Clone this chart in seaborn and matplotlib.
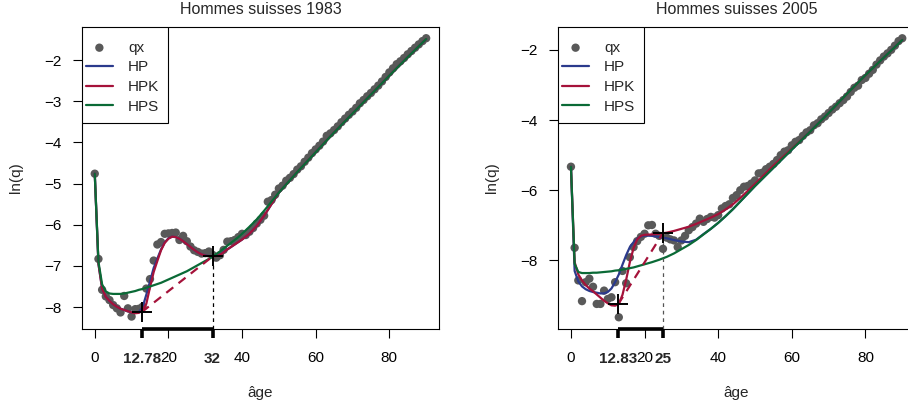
import numpy as np
import pandas as pd
import matplotlib
matplotlib.use("Agg")
import matplotlib.pyplot as plt
import matplotlib.transforms as mtransforms
from matplotlib.patches import Rectangle
import seaborn as sns

# --- Data ---
ages = list(range(0, 91))

qx_1983 = [-4.76, -6.83, -7.58, -7.74, -7.83, -7.95, -8.03, -8.13, -7.73, -8.03,
           -8.23, -8.05, -8.04, -7.99, -7.55, -7.32, -6.87, -6.48, -6.42, -6.22,
           -6.21, -6.20, -6.19, -6.37, -6.27, -6.40, -6.53, -6.62, -6.66, -6.70,
           -6.69, -6.65, -6.73, -6.80, -6.74, -6.61, -6.41, -6.40, -6.37, -6.30,
           -6.22, -6.25, -6.17, -6.08, -5.97, -5.88, -5.78, -5.44, -5.40, -5.27,
           -5.12, -5.05, -4.93, -4.86, -4.77, -4.66, -4.58, -4.47, -4.37, -4.26,
           -4.17, -4.08, -3.98, -3.84, -3.78, -3.70, -3.61, -3.51, -3.42, -3.33,
           -3.25, -3.16, -3.05, -2.97, -2.88, -2.80, -2.71, -2.62, -2.52, -2.41,
           -2.30, -2.20, -2.10, -2.03, -1.95, -1.86, -1.78, -1.70, -1.62, -1.54,
           -1.47]

qx_2005 = [-5.33, -7.64, -8.57, -9.16, -8.62, -8.52, -8.75, -9.24, -9.24, -8.86,
           -9.10, -9.05, -8.62, -9.62, -8.30, -8.65, -7.91, -7.62, -7.45, -7.33,
           -7.24, -7.00, -6.99, -7.24, -7.30, -7.67, -7.35, -7.40, -7.43, -7.62,
           -7.43, -7.30, -7.14, -7.05, -6.95, -6.81, -6.90, -6.82, -6.76, -6.78,
           -6.71, -6.52, -6.45, -6.40, -6.22, -6.14, -6.00, -5.90, -5.88, -5.81,
           -5.72, -5.52, -5.50, -5.40, -5.33, -5.25, -5.14, -5.00, -4.90, -4.86,
           -4.72, -4.62, -4.57, -4.45, -4.35, -4.29, -4.15, -4.09, -3.98, -3.90,
           -3.80, -3.70, -3.62, -3.52, -3.43, -3.33, -3.20, -3.08, -3.02, -2.86,
           -2.80, -2.68, -2.57, -2.42, -2.30, -2.19, -2.10, -2.00, -1.88, -1.75,
           -1.67]

# fitted curves, 1983
curve_ages_1983 = list(range(0, 41)) + [42, 44, 46, 48, 50, 55, 60, 65, 70, 75, 80, 85, 90]
hpk_1983 = [-4.76, -6.95, -7.55, -7.75, -7.85, -7.93, -7.99, -8.04, -8.07, -8.10,
            -8.13, -8.15, -8.14, -8.08, -7.92, -7.52, -7.15, -6.88, -6.62, -6.44,
            -6.34, -6.29, -6.30, -6.34, -6.40, -6.47, -6.54, -6.61, -6.67, -6.72,
            -6.75, -6.77, -6.77, -6.76, -6.73, -6.67, -6.60, -6.54, -6.48, -6.42,
            -6.36, -6.22, -6.03, -5.78, -5.50, -5.22, -4.72, -4.24, -3.76, -3.30,
            -2.84, -2.38, -1.93, -1.49]
hp_1983 = [-4.76, -6.95, -7.55, -7.75, -7.85, -7.93, -7.99, -8.04, -8.07, -8.10,
           -8.13, -8.14, -8.12, -8.00, -7.70, -7.38, -7.05, -6.82, -6.60, -6.43,
           -6.33, -6.29, -6.30, -6.34, -6.40, -6.47, -6.54, -6.61, -6.67, -6.72,
           -6.75, -6.76, -6.76, -6.75, -6.72, -6.66, -6.60, -6.54, -6.48, -6.42,
           -6.36, -6.22, -6.03, -5.78, -5.50, -5.22, -4.72, -4.24, -3.76, -3.30,
           -2.84, -2.38, -1.93, -1.49]
hps_1983 = [-4.76, -6.90, -7.45, -7.62, -7.67, -7.68, -7.68, -7.68, -7.67, -7.65,
            -7.63, -7.61, -7.58, -7.56, -7.53, -7.50, -7.47, -7.44, -7.41, -7.37,
            -7.33, -7.29, -7.25, -7.21, -7.17, -7.13, -7.08, -7.03, -6.98, -6.93,
            -6.88, -6.83, -6.77, -6.71, -6.65, -6.58, -6.51, -6.44, -6.37, -6.30,
            -6.22, -6.05, -5.87, -5.66, -5.44, -5.22, -4.72, -4.24, -3.76, -3.30,
            -2.84, -2.38, -1.93, -1.49]

# fitted curves, 2005
curve_ages_2005 = list(range(0, 21)) + list(range(22, 51, 2)) + [55, 60, 65, 70, 75, 80, 85, 90]
hpk_2005 = [-5.33, -8.05, -8.40, -8.57, -8.70, -8.80, -8.88, -8.97, -9.06, -9.15,
            -9.22, -9.28, -9.29, -9.24, -8.98, -8.55, -8.05, -7.65, -7.40, -7.30,
            -7.27, -7.26, -7.24, -7.21, -7.16, -7.10, -7.04, -6.96, -6.87, -6.78,
            -6.68, -6.55, -6.40, -6.22, -6.02, -5.82, -5.30, -4.82, -4.33, -3.80,
            -3.25, -2.72, -2.22, -1.72]
hp_2005 = [-5.33, -8.30, -8.60, -8.74, -8.82, -8.87, -8.90, -8.92, -8.94, -8.94,
           -8.90, -8.80, -8.62, -8.40, -8.12, -7.85, -7.62, -7.48, -7.38, -7.32,
           -7.29, -7.30, -7.33, -7.37, -7.42, -7.46, -7.48, -7.41, -7.25, -7.10,
           -6.93, -6.74, -6.54, -6.32, -6.10, -5.88, -5.36, -4.84, -4.33, -3.80,
           -3.25, -2.72, -2.22, -1.72]
hps_2005 = [-5.33, -8.10, -8.33, -8.36, -8.36, -8.36, -8.35, -8.35, -8.34, -8.33,
            -8.32, -8.31, -8.29, -8.28, -8.26, -8.24, -8.22, -8.20, -8.17, -8.14,
            -8.11, -8.05, -7.98, -7.90, -7.80, -7.68, -7.56, -7.42, -7.26, -7.10,
            -6.93, -6.74, -6.54, -6.32, -6.10, -5.88, -5.36, -4.84, -4.33, -3.80,
            -3.25, -2.72, -2.22, -1.72]

# hump bounds (knots) and the curve value at each
knots_1983 = [12.78, 32]
knot_vals_1983 = [-8.12, -6.77]
knot_labels_1983 = ["12.78", "32"]
knots_2005 = [12.83, 25]
knot_vals_2005 = [-9.25, -7.22]
knot_labels_2005 = ["12.83", "25"]

PT = "#595959"
BLUE = "#2B3A8C"
RED = "#A5123A"
GREEN = "#0A6A36"

sns.set_style("ticks")
plt.rcParams['font.family'] = ['Liberation Sans', 'DejaVu Sans']
plt.rcParams['axes.unicode_minus'] = True

fig = plt.figure(figsize=(9.08, 4.03), dpi=100)
ax1 = fig.add_axes([81.5 / 908, (403 - 328.5) / 403, 357.9 / 908, 301.8 / 403])
ax2 = fig.add_axes([557.7 / 908, (403 - 328.5) / 403, 357.8 / 908, 301.8 / 403])


def draw_panel(ax, title, qx, cages, hp, hpk, hps, knots, kvals, klabels,
               ylim, yticks, vcolor):
    pts = pd.DataFrame({'age': ages, 'lnq': qx})
    sns.scatterplot(data=pts, x='age', y='lnq', ax=ax, color=PT, s=36,
                    edgecolor='none', label='qx', zorder=2)
    for name, vals, col in (('HP', hp, BLUE), ('HPK', hpk, RED), ('HPS', hps, GREEN)):
        sns.lineplot(x=cages, y=vals, ax=ax, color=col, lw=1.6, label=name,
                     estimator=None, sort=False, zorder=3)
    # senescent part under the hump
    ax.plot(knots, kvals, ls=(0, (4, 3)), color=RED, lw=1.6, zorder=3)
    ax.plot([knots[1], knots[1]], [ylim[0], kvals[1]], ls=(0, (3, 3)),
            color=vcolor, lw=0.9, zorder=3)
    ax.plot(knots, kvals, ls='none', marker='+', ms=15, mew=1.4,
            color='black', zorder=5)

    ax.set_xlim(-3.6, 93.6)
    ax.set_ylim(*ylim)
    ax.set_xticks([0, 20, 40, 60, 80])
    ax.set_yticks(yticks)
    ax.tick_params(length=6.5, width=0.8, labelsize=11,
                   color='black', labelcolor='black')
    ax.tick_params(axis='x', pad=10)
    ax.tick_params(axis='y', pad=8)
    for s in ax.spines.values():
        s.set_color('black')
        s.set_linewidth(0.8)
    ax.set_xlabel('')
    ax.set_ylabel('')
    ax.set_title(title, fontsize=11.5, pad=9)
    ax.text(0.5, -0.214, 'âge', transform=ax.transAxes, ha='center',
            va='center', fontsize=11)
    ax.text(-0.184, 0.5, 'ln(q)', transform=ax.transAxes, ha='center',
            va='center', rotation=90, fontsize=11)

    # bold axis segment marking the hump
    trans = mtransforms.blended_transform_factory(ax.transData, ax.transAxes)
    ax.plot(knots, [0, 0], transform=trans, color='black', lw=2.6,
            clip_on=False, solid_capstyle='butt', zorder=6)
    for k, lab in zip(knots, klabels):
        ax.plot([k, k], [0, -0.031], transform=trans, color='black', lw=2.6,
                clip_on=False, solid_capstyle='butt', zorder=6)
        ax.text(k, -0.101, lab, transform=trans, ha='center', va='center',
                fontweight='bold', fontsize=11)

    # legend with an R-like box
    h, l = ax.get_legend_handles_labels()
    leg = ax.legend(h, l, loc='upper left',
                    bbox_to_anchor=(4.5 / 357.9, 1 - 14 / 301.8),
                    frameon=False, fontsize=11, borderpad=0, labelspacing=0.37,
                    handlelength=1.75, handletextpad=1.0, borderaxespad=0,
                    scatterpoints=1)
    leg.set_zorder(8)
    ax.add_patch(Rectangle((0, 1 - 96 / 301.8), 86.4 / 357.9, 96 / 301.8,
                           transform=ax.transAxes, facecolor='white',
                           edgecolor='black', lw=0.8, zorder=7))


draw_panel(ax1, 'Hommes suisses 1983', qx_1983, curve_ages_1983, hp_1983,
           hpk_1983, hps_1983, knots_1983, knot_vals_1983, knot_labels_1983,
           (-8.52, -1.19), [-8, -7, -6, -5, -4, -3, -2], 'black')
draw_panel(ax2, 'Hommes suisses 2005', qx_2005, curve_ages_2005, hp_2005,
           hpk_2005, hps_2005, knots_2005, knot_vals_2005, knot_labels_2005,
           (-9.94, -1.34), [-8, -6, -4, -2], '#555555')

fig.savefig('out.png', dpi=100)
